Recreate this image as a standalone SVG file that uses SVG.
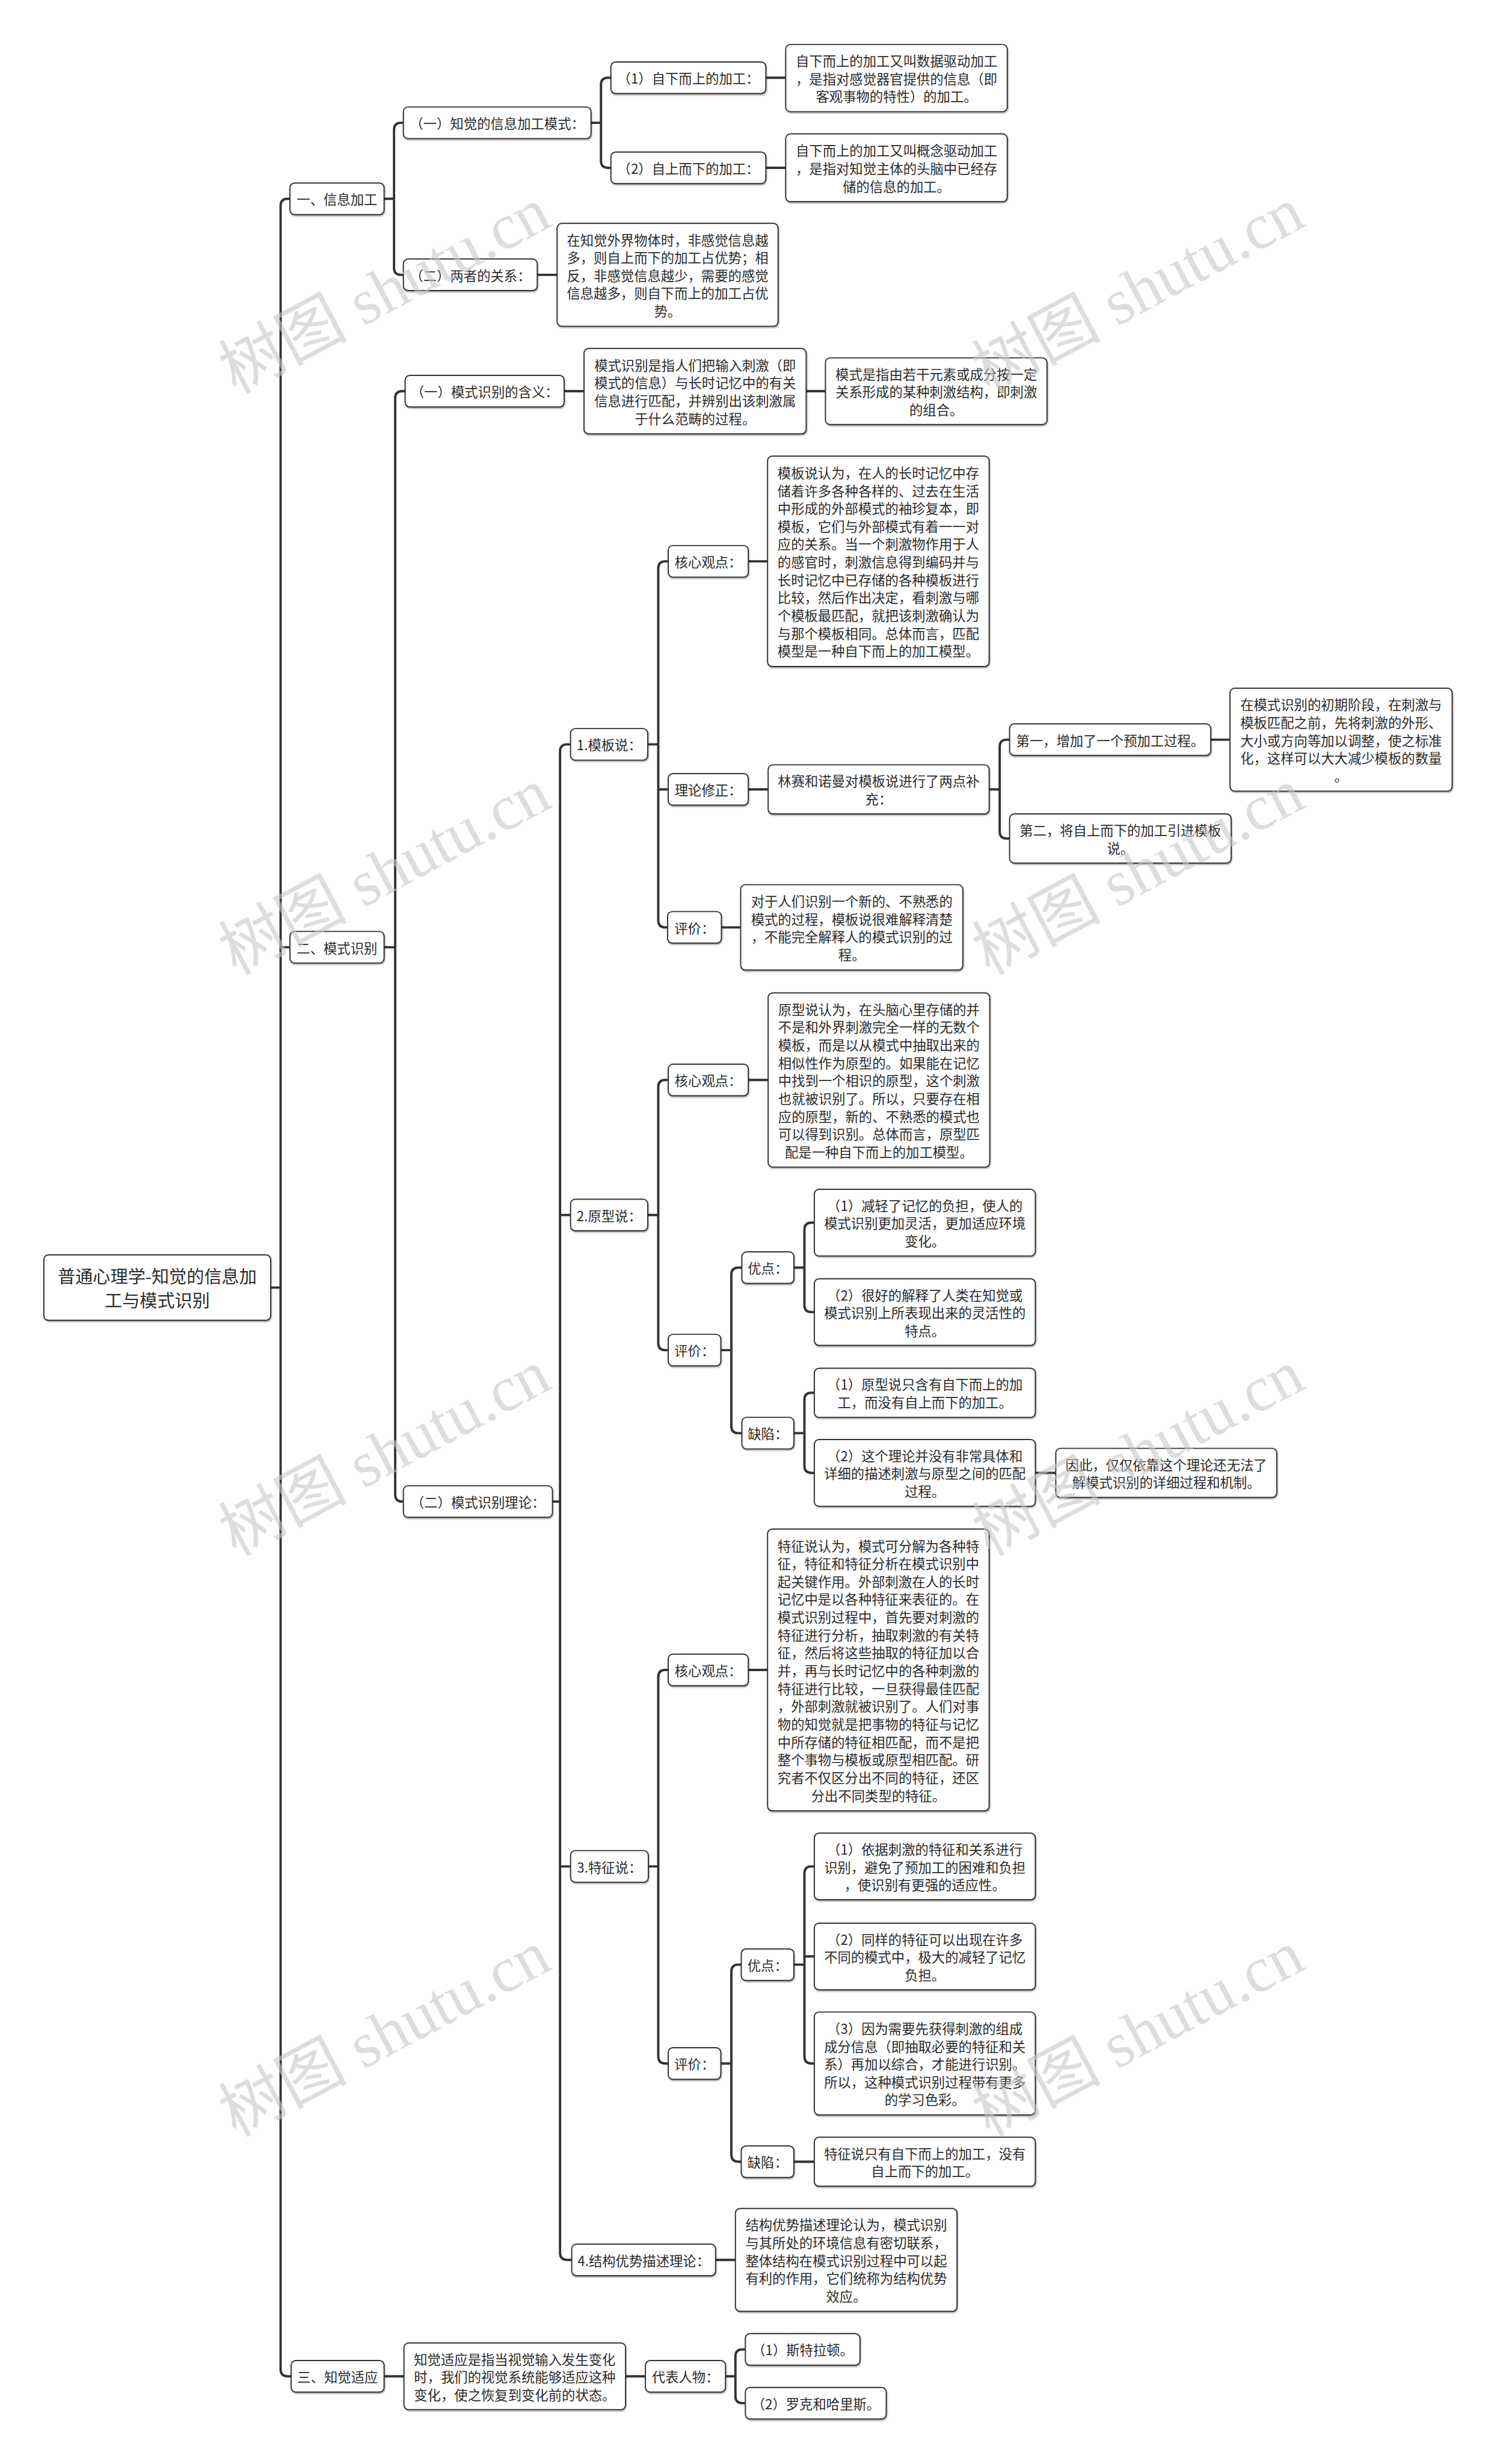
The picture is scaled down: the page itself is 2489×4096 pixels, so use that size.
<svg xmlns="http://www.w3.org/2000/svg" width="2489" height="4096" viewBox="0 0 2489 4096">
<defs>
<filter id="sh" x="-10%" y="-10%" width="120%" height="130%"><feDropShadow dx="1" dy="2" stdDeviation="1.2" flood-color="#000" flood-opacity="0.35"/></filter>
<style>
.node rect{fill:#fff;stroke:#333;stroke-width:2;filter:url(#sh)}
.node text{font-family:"Noto Sans CJK SC","Noto Sans",sans-serif;font-size:23px;fill:#2b2b2b;text-anchor:middle;dominant-baseline:central}
.root text{font-size:30px}
.conn path{fill:none;stroke:#333;stroke-width:4;stroke-linecap:round}
.wm text{font-family:"Liberation Serif","Noto Sans CJK SC",serif;font-size:110px;fill:#c8c8c8;opacity:0.6;text-anchor:middle;dominant-baseline:central}
</style>
</defs>
<rect width="2489" height="4096" fill="#fff"/>
<g transform="scale(0.972)">
<g id="connectors" class="conn">
<path d="M463,2202 H480 M496,340 H492 Q480,340 480,352 V4052 Q480,4064 492,4064 H498 M480,1620 H496"/>
<path d="M657,340 H674 M690,210 H686 Q674,210 674,222 V458 Q674,470 686,470 H690"/>
<path d="M1011,210 H1028 M1045,133 H1040 Q1028,133 1028,145 V275 Q1028,287 1040,287 H1045"/>
<path d="M1310,133 H1344 M1310,287 H1344 M919,470 H953"/>
<path d="M657,1620 H676 M693,669 H688 Q676,669 676,681 V2556 Q676,2568 688,2568 H690"/>
<path d="M965,669 H999 M1379,669 H1412"/>
<path d="M945,2568 H958 M976,1273 H970 Q958,1273 958,1285 V3853 Q958,3865 970,3865 H978 M958,2078 H976 M958,3192 H976"/>
<path d="M1108,1273 H1126 M1143,960 H1138 Q1126,960 1126,972 V1574 Q1126,1586 1138,1586 H1142 M1126,1350 H1143"/>
<path d="M1280,960 H1313 M1280,1350 H1314 M1234,1586 H1267"/>
<path d="M1692,1350 H1710 M1727,1265 H1722 Q1710,1265 1710,1277 V1422 Q1710,1434 1722,1434 H1727 M2071,1265 H2104"/>
<path d="M1108,2078 H1126 M1143,1847 H1138 Q1126,1847 1126,1859 V2297 Q1126,2309 1138,2309 H1143 M1280,1847 H1314"/>
<path d="M1233,2309 H1251 M1269,2168 H1263 Q1251,2168 1251,2180 V2439 Q1251,2451 1263,2451 H1269"/>
<path d="M1358,2168 H1376 M1393,2091 H1388 Q1376,2091 1376,2103 V2232 Q1376,2244 1388,2244 H1393"/>
<path d="M1358,2451 H1376 M1393,2382 H1388 Q1376,2382 1376,2394 V2507 Q1376,2519 1388,2519 H1393 M1771,2519 H1806"/>
<path d="M1109,3192 H1126 M1143,2856 H1138 Q1126,2856 1126,2868 V3517 Q1126,3529 1138,3529 H1143 M1280,2856 H1313"/>
<path d="M1233,3529 H1251 M1268,3360 H1263 Q1251,3360 1251,3372 V3685 Q1251,3697 1263,3697 H1268"/>
<path d="M1358,3360 H1376 M1393,3192 H1388 Q1376,3192 1376,3204 V3517 Q1376,3529 1388,3529 H1393 M1376,3346 H1393 M1358,3697 H1393"/>
<path d="M1224,3865 H1258 M657,4064 H691 M1070,4064 H1104"/>
<path d="M1241,4064 H1258 M1275,4018 H1270 Q1258,4018 1258,4030 V4098 Q1258,4110 1270,4110 H1275"/>
</g>
<g id="root" class="node root"><rect x="75" y="2146" width="388" height="112" rx="8"/><text><tspan x="269" y="2181.5">普通心理学-知觉的信息加</tspan><tspan x="269" y="2222.5">工与模式识别</tspan></text></g>
<g id="n1" class="node"><rect x="496" y="313" width="161" height="54" rx="8"/><text x="576.5" y="340">一、信息加工</text></g>
<g id="n1a" class="node"><rect x="690" y="183" width="321" height="54" rx="8"/><text x="850.5" y="210">（一）知觉的信息加工模式：</text></g>
<g id="n1a1" class="node"><rect x="1045" y="106" width="265" height="54" rx="8"/><text x="1177.5" y="133">（1）自下而上的加工：</text></g>
<g id="n1a1t" class="node"><rect x="1344" y="76" width="379" height="115" rx="8"/><text><tspan x="1533.5" y="103">自下而上的加工又叫数据驱动加工</tspan><tspan x="1533.5" y="133.5">，是指对感觉器官提供的信息（即</tspan><tspan x="1533.5" y="164">客观事物的特性）的加工。</tspan></text></g>
<g id="n1a2" class="node"><rect x="1045" y="260" width="265" height="54" rx="8"/><text x="1177.5" y="287">（2）自上而下的加工：</text></g>
<g id="n1a2t" class="node"><rect x="1344" y="229" width="379" height="116" rx="8"/><text><tspan x="1533.5" y="256.5">自下而上的加工又叫概念驱动加工</tspan><tspan x="1533.5" y="287">，是指对知觉主体的头脑中已经存</tspan><tspan x="1533.5" y="317.5">储的信息的加工。</tspan></text></g>
<g id="n1b" class="node"><rect x="690" y="443" width="229" height="54" rx="8"/><text x="804.5" y="470">（二）两者的关系：</text></g>
<g id="n1bt" class="node"><rect x="953" y="382" width="378" height="176" rx="8"/><text><tspan x="1142" y="409">在知觉外界物体时，非感觉信息越</tspan><tspan x="1142" y="439.5">多，则自上而下的加工占优势；相</tspan><tspan x="1142" y="470">反，非感觉信息越少，需要的感觉</tspan><tspan x="1142" y="500.5">信息越多，则自下而上的加工占优</tspan><tspan x="1142" y="531">势。</tspan></text></g>
<g id="n2" class="node"><rect x="496" y="1593" width="161" height="54" rx="8"/><text x="576.5" y="1620">二、模式识别</text></g>
<g id="n2a" class="node"><rect x="693" y="642" width="272" height="54" rx="8"/><text x="829" y="669">（一）模式识别的含义：</text></g>
<g id="n2at" class="node"><rect x="999" y="596" width="380" height="146" rx="8"/><text><tspan x="1189" y="623.25">模式识别是指人们把输入刺激（即</tspan><tspan x="1189" y="653.75">模式的信息）与长时记忆中的有关</tspan><tspan x="1189" y="684.25">信息进行匹配，并辨别出该刺激属</tspan><tspan x="1189" y="714.75">于什么范畴的过程。</tspan></text></g>
<g id="n2att" class="node"><rect x="1412" y="612" width="379" height="114" rx="8"/><text><tspan x="1601.5" y="638.5">模式是指由若干元素或成分按一定</tspan><tspan x="1601.5" y="669">关系形成的某种刺激结构，即刺激</tspan><tspan x="1601.5" y="699.5">的组合。</tspan></text></g>
<g id="n2b" class="node"><rect x="690" y="2541" width="255" height="54" rx="8"/><text x="817.5" y="2568">（二）模式识别理论：</text></g>
<g id="t1" class="node"><rect x="976" y="1246" width="132" height="54" rx="8"/><text x="1042" y="1273">1.模板说：</text></g>
<g id="t1a" class="node"><rect x="1143" y="933" width="137" height="54" rx="8"/><text x="1211.5" y="960">核心观点：</text></g>
<g id="t1at" class="node"><rect x="1313" y="780" width="379" height="360" rx="8"/><text><tspan x="1502.5" y="807.5">模板说认为，在人的长时记忆中存</tspan><tspan x="1502.5" y="838">储着许多各种各样的、过去在生活</tspan><tspan x="1502.5" y="868.5">中形成的外部模式的袖珍复本，即</tspan><tspan x="1502.5" y="899">模板，它们与外部模式有着一一对</tspan><tspan x="1502.5" y="929.5">应的关系。当一个刺激物作用于人</tspan><tspan x="1502.5" y="960">的感官时，刺激信息得到编码并与</tspan><tspan x="1502.5" y="990.5">长时记忆中已存储的各种模板进行</tspan><tspan x="1502.5" y="1021">比较，然后作出决定，看刺激与哪</tspan><tspan x="1502.5" y="1051.5">个模板最匹配，就把该刺激确认为</tspan><tspan x="1502.5" y="1082">与那个模板相同。总体而言，匹配</tspan><tspan x="1502.5" y="1112.5">模型是一种自下而上的加工模型。</tspan></text></g>
<g id="t1b" class="node"><rect x="1143" y="1323" width="137" height="54" rx="8"/><text x="1211.5" y="1350">理论修正：</text></g>
<g id="t1bt" class="node"><rect x="1314" y="1308" width="378" height="84" rx="8"/><text><tspan x="1503" y="1334.75">林赛和诺曼对模板说进行了两点补</tspan><tspan x="1503" y="1365.25">充：</tspan></text></g>
<g id="t1b1" class="node"><rect x="1727" y="1238" width="344" height="54" rx="8"/><text x="1899" y="1265">第一，增加了一个预加工过程。</text></g>
<g id="t1b1t" class="node"><rect x="2104" y="1177" width="380" height="176" rx="8"/><text><tspan x="2294" y="1204">在模式识别的初期阶段，在刺激与</tspan><tspan x="2294" y="1234.5">模板匹配之前，先将刺激的外形、</tspan><tspan x="2294" y="1265">大小或方向等加以调整，使之标准</tspan><tspan x="2294" y="1295.5">化，这样可以大大减少模板的数量</tspan><tspan x="2294" y="1326">。</tspan></text></g>
<g id="t1b2" class="node"><rect x="1727" y="1392" width="379" height="84" rx="8"/><text><tspan x="1916.5" y="1418.75">第二，将自上而下的加工引进模板</tspan><tspan x="1916.5" y="1449.25">说。</tspan></text></g>
<g id="t1c" class="node"><rect x="1142" y="1559" width="92" height="54" rx="8"/><text x="1188" y="1586">评价：</text></g>
<g id="t1ct" class="node"><rect x="1267" y="1513" width="380" height="146" rx="8"/><text><tspan x="1457" y="1540.25">对于人们识别一个新的、不熟悉的</tspan><tspan x="1457" y="1570.75">模式的过程，模板说很难解释清楚</tspan><tspan x="1457" y="1601.25">，不能完全解释人的模式识别的过</tspan><tspan x="1457" y="1631.75">程。</tspan></text></g>
<g id="t2" class="node"><rect x="976" y="2051" width="132" height="54" rx="8"/><text x="1042" y="2078">2.原型说：</text></g>
<g id="t2a" class="node"><rect x="1143" y="1820" width="137" height="54" rx="8"/><text x="1211.5" y="1847">核心观点：</text></g>
<g id="t2at" class="node"><rect x="1314" y="1698" width="379" height="298" rx="8"/><text><tspan x="1503.5" y="1725">原型说认为，在头脑心里存储的并</tspan><tspan x="1503.5" y="1755.5">不是和外界刺激完全一样的无数个</tspan><tspan x="1503.5" y="1786">模板，而是以从模式中抽取出来的</tspan><tspan x="1503.5" y="1816.5">相似性作为原型的。如果能在记忆</tspan><tspan x="1503.5" y="1847">中找到一个相识的原型，这个刺激</tspan><tspan x="1503.5" y="1877.5">也就被识别了。所以，只要存在相</tspan><tspan x="1503.5" y="1908">应的原型，新的、不熟悉的模式也</tspan><tspan x="1503.5" y="1938.5">可以得到识别。总体而言，原型匹</tspan><tspan x="1503.5" y="1969">配是一种自下而上的加工模型。</tspan></text></g>
<g id="t2b" class="node"><rect x="1143" y="2282" width="90" height="54" rx="8"/><text x="1188" y="2309">评价：</text></g>
<g id="t2b1" class="node"><rect x="1269" y="2141" width="89" height="54" rx="8"/><text x="1313.5" y="2168">优点：</text></g>
<g id="t2b1a" class="node"><rect x="1393" y="2034" width="378" height="114" rx="8"/><text><tspan x="1582" y="2060.5">（1）减轻了记忆的负担，使人的</tspan><tspan x="1582" y="2091">模式识别更加灵活，更加适应环境</tspan><tspan x="1582" y="2121.5">变化。</tspan></text></g>
<g id="t2b1b" class="node"><rect x="1393" y="2187" width="378" height="114" rx="8"/><text><tspan x="1582" y="2213.5">（2）很好的解释了人类在知觉或</tspan><tspan x="1582" y="2244">模式识别上所表现出来的灵活性的</tspan><tspan x="1582" y="2274.5">特点。</tspan></text></g>
<g id="t2b2" class="node"><rect x="1269" y="2424" width="89" height="54" rx="8"/><text x="1313.5" y="2451">缺陷：</text></g>
<g id="t2b2a" class="node"><rect x="1393" y="2340" width="378" height="84" rx="8"/><text><tspan x="1582" y="2366.75">（1）原型说只含有自下而上的加</tspan><tspan x="1582" y="2397.25">工，而没有自上而下的加工。</tspan></text></g>
<g id="t2b2b" class="node"><rect x="1393" y="2462" width="378" height="114" rx="8"/><text><tspan x="1582" y="2488.5">（2）这个理论并没有非常具体和</tspan><tspan x="1582" y="2519">详细的描述刺激与原型之间的匹配</tspan><tspan x="1582" y="2549.5">过程。</tspan></text></g>
<g id="t2b2bt" class="node"><rect x="1806" y="2477" width="378" height="84" rx="8"/><text><tspan x="1995" y="2503.75">因此，仅仅依靠这个理论还无法了</tspan><tspan x="1995" y="2534.25">解模式识别的详细过程和机制。</tspan></text></g>
<g id="t3" class="node"><rect x="976" y="3165" width="133" height="54" rx="8"/><text x="1042.5" y="3192">3.特征说：</text></g>
<g id="t3a" class="node"><rect x="1143" y="2829" width="137" height="54" rx="8"/><text x="1211.5" y="2856">核心观点：</text></g>
<g id="t3at" class="node"><rect x="1313" y="2615" width="379" height="482" rx="8"/><text><tspan x="1502.5" y="2642.5">特征说认为，模式可分解为各种特</tspan><tspan x="1502.5" y="2673">征，特征和特征分析在模式识别中</tspan><tspan x="1502.5" y="2703.5">起关键作用。外部刺激在人的长时</tspan><tspan x="1502.5" y="2734">记忆中是以各种特征来表征的。在</tspan><tspan x="1502.5" y="2764.5">模式识别过程中，首先要对刺激的</tspan><tspan x="1502.5" y="2795">特征进行分析，抽取刺激的有关特</tspan><tspan x="1502.5" y="2825.5">征，然后将这些抽取的特征加以合</tspan><tspan x="1502.5" y="2856">并，再与长时记忆中的各种刺激的</tspan><tspan x="1502.5" y="2886.5">特征进行比较，一旦获得最佳匹配</tspan><tspan x="1502.5" y="2917">，外部刺激就被识别了。人们对事</tspan><tspan x="1502.5" y="2947.5">物的知觉就是把事物的特征与记忆</tspan><tspan x="1502.5" y="2978">中所存储的特征相匹配，而不是把</tspan><tspan x="1502.5" y="3008.5">整个事物与模板或原型相匹配。研</tspan><tspan x="1502.5" y="3039">究者不仅区分出不同的特征，还区</tspan><tspan x="1502.5" y="3069.5">分出不同类型的特征。</tspan></text></g>
<g id="t3b" class="node"><rect x="1143" y="3502" width="90" height="54" rx="8"/><text x="1188" y="3529">评价：</text></g>
<g id="t3b1" class="node"><rect x="1268" y="3333" width="90" height="54" rx="8"/><text x="1313" y="3360">优点：</text></g>
<g id="t3b1a" class="node"><rect x="1393" y="3135" width="378" height="114" rx="8"/><text><tspan x="1582" y="3161.5">（1）依据刺激的特征和关系进行</tspan><tspan x="1582" y="3192">识别，避免了预加工的困难和负担</tspan><tspan x="1582" y="3222.5">，使识别有更强的适应性。</tspan></text></g>
<g id="t3b1b" class="node"><rect x="1393" y="3289" width="378" height="114" rx="8"/><text><tspan x="1582" y="3315.5">（2）同样的特征可以出现在许多</tspan><tspan x="1582" y="3346">不同的模式中，极大的减轻了记忆</tspan><tspan x="1582" y="3376.5">负担。</tspan></text></g>
<g id="t3b1c" class="node"><rect x="1393" y="3441" width="378" height="176" rx="8"/><text><tspan x="1582" y="3468">（3）因为需要先获得刺激的组成</tspan><tspan x="1582" y="3498.5">成分信息（即抽取必要的特征和关</tspan><tspan x="1582" y="3529">系）再加以综合，才能进行识别。</tspan><tspan x="1582" y="3559.5">所以，这种模式识别过程带有更多</tspan><tspan x="1582" y="3590">的学习色彩。</tspan></text></g>
<g id="t3b2" class="node"><rect x="1268" y="3670" width="90" height="54" rx="8"/><text x="1313" y="3697">缺陷：</text></g>
<g id="t3b2a" class="node"><rect x="1393" y="3655" width="378" height="84" rx="8"/><text><tspan x="1582" y="3681.75">特征说只有自下而上的加工，没有</tspan><tspan x="1582" y="3712.25">自上而下的加工。</tspan></text></g>
<g id="t4" class="node"><rect x="978" y="3838" width="246" height="54" rx="8"/><text x="1101" y="3865">4.结构优势描述理论：</text></g>
<g id="t4t" class="node"><rect x="1258" y="3777" width="379" height="176" rx="8"/><text><tspan x="1447.5" y="3804">结构优势描述理论认为，模式识别</tspan><tspan x="1447.5" y="3834.5">与其所处的环境信息有密切联系，</tspan><tspan x="1447.5" y="3865">整体结构在模式识别过程中可以起</tspan><tspan x="1447.5" y="3895.5">有利的作用，它们统称为结构优势</tspan><tspan x="1447.5" y="3926">效应。</tspan></text></g>
<g id="n3" class="node"><rect x="498" y="4037" width="159" height="54" rx="8"/><text x="577.5" y="4064">三、知觉适应</text></g>
<g id="n3t" class="node"><rect x="691" y="4007" width="379" height="114" rx="8"/><text><tspan x="880.5" y="4033.5">知觉适应是指当视觉输入发生变化</tspan><tspan x="880.5" y="4064">时，我们的视觉系统能够适应这种</tspan><tspan x="880.5" y="4094.5">变化，使之恢复到变化前的状态。</tspan></text></g>
<g id="n3a" class="node"><rect x="1104" y="4037" width="137" height="54" rx="8"/><text x="1172.5" y="4064">代表人物：</text></g>
<g id="n3a1" class="node"><rect x="1275" y="3991" width="196" height="54" rx="8"/><text x="1373" y="4018">（1）斯特拉顿。</text></g>
<g id="n3a2" class="node"><rect x="1275" y="4083" width="241" height="54" rx="8"/><text x="1395.5" y="4110">（2）罗克和哈里斯。</text></g>
<g id="watermark" class="wm">
<text transform="rotate(-28 658 497)" x="658" y="497">树图 shutu.cn</text>
<text transform="rotate(-28 1947 497)" x="1947" y="497">树图 shutu.cn</text>
<text transform="rotate(-28 658 1491)" x="658" y="1491">树图 shutu.cn</text>
<text transform="rotate(-28 1947 1491)" x="1947" y="1491">树图 shutu.cn</text>
<text transform="rotate(-28 658 2485)" x="658" y="2485">树图 shutu.cn</text>
<text transform="rotate(-28 1947 2485)" x="1947" y="2485">树图 shutu.cn</text>
<text transform="rotate(-28 658 3478)" x="658" y="3478">树图 shutu.cn</text>
<text transform="rotate(-28 1947 3478)" x="1947" y="3478">树图 shutu.cn</text>
</g>
</g>
</svg>
